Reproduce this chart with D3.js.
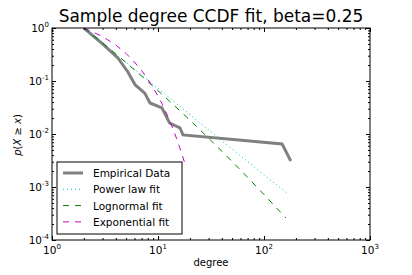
<!DOCTYPE html>
<html>
<head>
<meta charset="utf-8">
<script src="https://cdn.jsdelivr.net/npm/d3@7"></script>
<style>
body{margin:0;background:#fff}
text{font-family:"DejaVu Sans",sans-serif}
</style>
</head>
<body>
<div id="chart"></div>
<script>
var w=412,h=275

// data
var empX=[2,3,4.2,5.2,6.1,7.5,8.4,10.9,12.9,16.1,17.2,148,179]
var empY=[1,0.5,0.27,0.148,0.084,0.059,0.0385,0.031,0.016,0.0131,0.0096,0.0065,0.0031]
var powX=[2,7.5,47.7,168]
var powY=[1,0.116,0.0056,0.00074]
var lognX=[2,4,10,20,50,100,161]
var lognY=[1,0.324,0.0657,0.0182,0.00303,0.00072,0.00026]
var expX=[2,3,4,5,6,7,8,9,10,11,12,13,14,15,16,17,18]
var expY=[1,0.69,0.477,0.33,0.228,0.157,0.109,0.075,0.052,0.036,0.0247,0.017,0.0118,0.0081,0.0056,0.0039,0.0027]
var xMajor=[1,10,100,1000], yMajor=[1e-4,1e-3,1e-2,1e-1,1]
var xExp=["0","1","2","3"], yExp=["-4","-3","-2","-1","0"]
var legendLabels=["Empirical Data","Power law fit","Lognormal fit","Exponential fit"]

var pL=52,pR=370,pT=28,pB=240

var svg=d3.select("#chart")
.append("svg")
.attr("width",w)
.attr("height",h)

var x=d3.scaleLog().domain([1,1000]).range([pL,pR])
var y=d3.scaleLog().domain([1e-4,1]).range([pB,pT])

function minors(lo,hi){
	var out=[]
	for(var d=lo;d<hi*0.999;d*=10)
		for(var k=2;k<10;k++) out.push(d*k)
	return out
}
var xMinor=minors(1,1000), yMinor=minors(1e-4,1)

svg.append("clipPath").attr("id","clip")
.append("rect").attr("x",pL).attr("y",pT).attr("width",pR-pL).attr("height",pB-pT)

var plot=svg.append("g").attr("clip-path","url(#clip)")

var line=d3.line().x(function(d){return x(d[0])}).y(function(d){return y(d[1])})

plot.append("path")
.datum(d3.zip(empX,empY))
.attr("d",line)
.attr("fill","none")
.attr("stroke","#808080")
.attr("stroke-width",3)

plot.append("path")
.datum(d3.zip(powX,powY))
.attr("d",line)
.attr("fill","none")
.attr("stroke","#00bfbf")
.attr("stroke-dasharray","1,3")

plot.append("path")
.datum(d3.zip(lognX,lognY))
.attr("d",d3.line().curve(d3.curveMonotoneX).x(function(d){return x(d[0])}).y(function(d){return y(d[1])}))
.attr("fill","none")
.attr("stroke","#008000")
.attr("stroke-dasharray","6,6")

plot.append("path")
.datum(d3.zip(expX,expY))
.attr("d",line)
.attr("fill","none")
.attr("stroke","#bf00bf")
.attr("stroke-dasharray","6,6")

// ticks, all four sides, pointing in
function ticks(axis,vals,size,pos){
	var g=svg.append("g").attr("transform",pos).call(axis.tickValues(vals).tickSize(size).tickFormat(""))
	g.select(".domain").remove()
	g.selectAll("line").attr("stroke","#000")
	return g
}
ticks(d3.axisBottom(x),xMajor,-4,"translate(0,"+pB+")")
ticks(d3.axisBottom(x),xMinor,-2,"translate(0,"+pB+")")
ticks(d3.axisTop(x),xMajor,-4,"translate(0,"+pT+")")
ticks(d3.axisTop(x),xMinor,-2,"translate(0,"+pT+")")
ticks(d3.axisLeft(y),yMajor,-4,"translate("+pL+",0)")
ticks(d3.axisLeft(y),yMinor,-2,"translate("+pL+",0)")
ticks(d3.axisRight(y),yMajor,-4,"translate("+pR+",0)")
ticks(d3.axisRight(y),yMinor,-2,"translate("+pR+",0)")

svg.append("rect")
.attr("x",pL).attr("y",pT).attr("width",pR-pL).attr("height",pB-pT)
.attr("fill","none").attr("stroke","#000").attr("stroke-width",1)

// tick labels
xMajor.forEach(function(v,i){
	var t=svg.append("text").attr("x",x(v)).attr("y",pB+14).attr("text-anchor","middle").attr("font-size",10.5)
	t.append("tspan").text("10")
	t.append("tspan").attr("dy",-5).attr("font-size",7).text(xExp[i])
})
yMajor.forEach(function(v,i){
	var t=svg.append("text").attr("x",pL-3).attr("y",y(v)+4).attr("text-anchor","end").attr("font-size",10.5)
	t.append("tspan").text("10")
	t.append("tspan").attr("dy",-5).attr("font-size",7).text(yExp[i])
})

svg.append("text")
.attr("x",(pL+pR)/2).attr("y",22)
.attr("text-anchor","middle").attr("font-size",17)
.text("Sample degree CCDF fit, beta=0.25")

svg.append("text")
.attr("x",(pL+pR)/2).attr("y",266)
.attr("text-anchor","middle").attr("font-size",10)
.text("degree")

var yl=svg.append("text")
.attr("transform","translate(21,135) rotate(-90)")
.attr("text-anchor","middle").attr("font-size",10)
yl.append("tspan").attr("font-style","italic").text("p")
yl.append("tspan").text("(")
yl.append("tspan").attr("font-style","italic").text("X")
yl.append("tspan").text(" \u2265 ")
yl.append("tspan").attr("font-style","italic").text("x")
yl.append("tspan").text(")")

// legend
var leg=svg.append("g")
leg.append("rect")
.attr("x",57).attr("y",162).attr("width",125).attr("height",72)
.attr("fill","#fff").attr("stroke","#000").attr("stroke-width",1)

var legStroke=["#808080","#00bfbf","#008000","#bf00bf"]
var legWidth=[3,1,1,1]
var legDash=[null,"1,3","6,6","6,6"]
legendLabels.forEach(function(s,i){
	var cy=173+i*16.3
	leg.append("line")
	.attr("x1",63).attr("x2",83).attr("y1",cy).attr("y2",cy)
	.attr("stroke",legStroke[i]).attr("stroke-width",legWidth[i])
	.attr("stroke-dasharray",legDash[i])
	leg.append("text")
	.attr("x",93).attr("y",cy+4).attr("font-size",10.5)
	.text(s)
})
</script>
</body>
</html>
